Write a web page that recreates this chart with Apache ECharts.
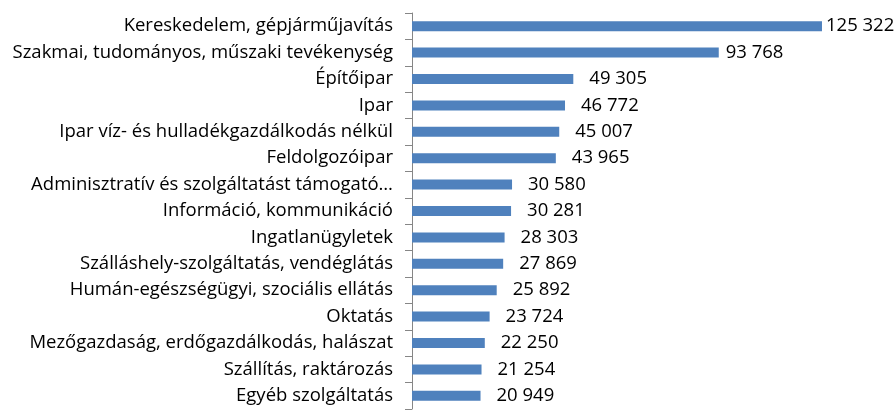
<!DOCTYPE html>
<html>
<head>
<meta charset="utf-8">
<script src="https://cdn.jsdelivr.net/npm/echarts@6/dist/echarts.min.js"></script>
<style>
  html, body { margin: 0; padding: 0; background: #fff; }
  #chart { width: 895px; height: 410px; }
</style>
</head>
<body>
<div id="chart"></div>
<script>
// categories top to bottom, as in the picture
const categories = [
  "Kereskedelem, gépjárműjavítás",
  "Szakmai, tudományos, műszaki tevékenység",
  "Építőipar",
  "Ipar",
  "Ipar víz- és hulladékgazdálkodás nélkül",
  "Feldolgozóipar",
  "Adminisztratív és szolgáltatást támogató…",
  "Információ, kommunikáció",
  "Ingatlanügyletek",
  "Szálláshely-szolgáltatás, vendéglátás",
  "Humán-egészségügyi, szociális ellátás",
  "Oktatás",
  "Mezőgazdaság, erdőgazdálkodás, halászat",
  "Szállítás, raktározás",
  "Egyéb szolgáltatás",
];
const values = [
  125322, 93768, 49305, 46772, 45007, 43965, 30580, 30281,
  28303, 27869, 25892, 23724, 22250, 21254, 20949,
];

const fmt = (v) => String(v).replace(/\B(?=(\d{3})+(?!\d))/g, " ");

// the two long bars have their labels pulled in closer (as excel does near the edge)
const labelGap = (i) => (i === 0 ? 4 : i === 1 ? 7 : 16);

const myChart = echarts.init(document.getElementById("chart"));
myChart.setOption({
  animation: false,
  textStyle: { fontFamily: "Open Sans" },
  grid: {
    left: 412,
    right: 25,
    top: 13,
    bottom: 1,
    containLabel: false,
  },
  xAxis: {
    type: "value",
    min: 0,
    max: 140000,
    show: false,
  },
  yAxis: {
    type: "category",
    inverse: true,
    data: categories,
    axisLine: { show: true, lineStyle: { color: "#868686", width: 1 } },
    axisTick: { show: true, length: 7, lineStyle: { color: "#868686" } },
    axisLabel: {
      color: "#000",
      fontSize: 18.5,
      fontFamily: "Open Sans",
      margin: 19,
    },
    splitLine: { show: false },
  },
  series: [
    {
      type: "bar",
      data: values.map((v, i) => ({
        value: v,
        label: { distance: labelGap(i) },
      })),
      barWidth: 10,
      itemStyle: { color: "#4f81bd" },
      label: {
        show: true,
        position: "right",
        color: "#000",
        fontSize: 18.5,
        fontFamily: "Open Sans",
        formatter: ({ value }) => fmt(value),
      },
    },
  ],
});
</script>
</body>
</html>
